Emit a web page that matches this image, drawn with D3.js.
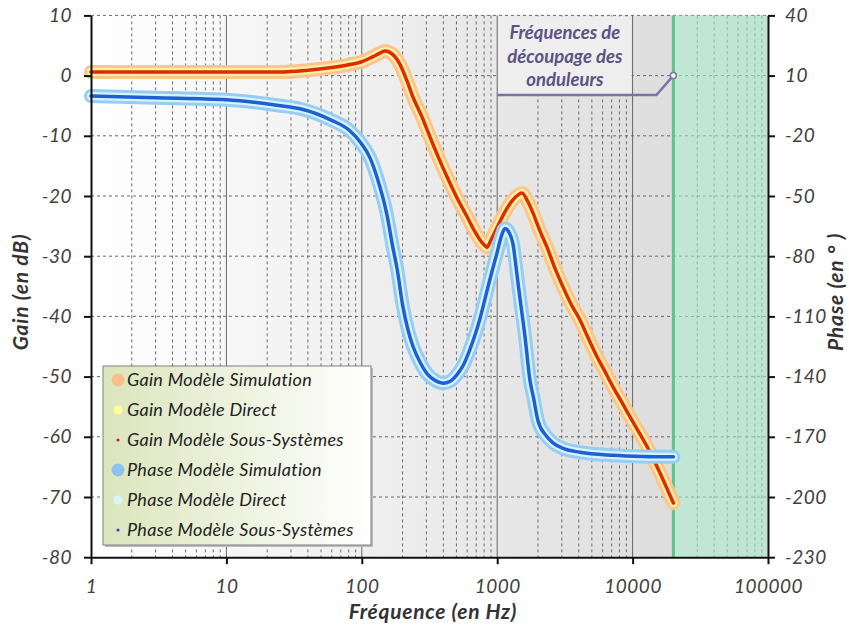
<!DOCTYPE html>
<html>
<head>
<meta charset="utf-8">
<script src="https://cdn.jsdelivr.net/npm/d3@7"></script>
<style>
body { margin: 0; background: #fff; }
text { font-family: Lato, "Open Sans", sans-serif; }
</style>
</head>
<body>
<div id="chart"></div>
<script>
// gain curve (Hz, dB)
var freqGain = [1, 3, 10, 25, 40, 58, 80, 100, 120, 135, 148, 160, 175, 191, 215, 239, 280, 319, 370, 426,
    510, 598, 680, 747, 800, 841, 900, 1000, 1100, 1200, 1350, 1525, 1680, 1838, 2050, 2332, 2650, 3062,
    3500, 4088, 4700, 5462, 6300, 7166, 8300, 9573, 12770, 15930, 20000];
var gainDb = [0.6, 0.6, 0.6, 0.6, 0.9, 1.3, 1.8, 2.3, 3.1, 3.7, 4.1, 3.9, 3.2, 1.9, -0.8, -3.6, -7.0, -10.2, -13.7, -16.8,
    -20.5, -23.4, -25.8, -27.3, -28.1, -28.5, -27.3, -25.2, -23.3, -21.8, -20.3, -19.5, -20.9, -22.8, -25.6, -28.5, -31.8, -35.1,
    -37.9, -40.6, -43.6, -46.7, -49.3, -51.7, -54.2, -56.7, -61.6, -66.0, -71.0];

// phase curve (Hz, degrees)
var freqPhase = [1, 3, 10, 25, 35, 60, 80, 97, 115, 130, 153, 170, 182, 201, 220, 239, 270, 303, 350, 398,
    450, 505, 560, 620, 680, 747, 850, 920, 991, 1080, 1142, 1220, 1309, 1393, 1473, 1604, 1747, 1848, 2001, 2300,
    2583, 3000, 4088, 7166, 12000, 20000];
var phaseDeg = [-0.2, -1, -2, -5, -6.5, -12.3, -17, -23, -31, -41, -59, -76, -86, -105, -117, -125, -133, -138.5, -142, -143.3,
    -142.3, -139, -134.5, -127.5, -120, -111, -96, -87, -79, -69.5, -66.2, -68, -74, -88, -101, -120, -142, -150, -162, -169.5,
    -173, -175.5, -177.7, -179.2, -179.8, -180];

var freqTicks = [1, 10, 100, 1000, 10000, 100000];
var gainTicks = [10, 0, -10, -20, -30, -40, -50, -60, -70, -80];
var phaseTicks = [40, 10, -20, -50, -80, -110, -140, -170, -200, -230];
var switchFreq = 20000;
var noteLines = ["Fréquences de", "découpage des", "onduleurs"];
var legendNames = ["Gain Modèle Simulation", "Gain Modèle Direct", "Gain Modèle Sous-Systèmes",
    "Phase Modèle Simulation", "Phase Modèle Direct", "Phase Modèle Sous-Systèmes"];

var W = 849, H = 627;
var L = 91, R = 768, T = 15.4, B = 557.2;

var svg = d3.select("#chart").append("svg").attr("width", W).attr("height", H);

var x = d3.scaleLog().domain([1, 100000]).range([L, R]);
var yG = d3.scaleLinear().domain([-80, 10]).range([B, T]);
var yP = d3.scaleLinear().domain([-230, 40]).range([B, T]);

var defs = svg.append("defs");
var bg = defs.append("linearGradient").attr("id", "bg");
bg.append("stop").attr("offset", "0%").attr("stop-color", "#ffffff");
bg.append("stop").attr("offset", "100%").attr("stop-color", "#d8d8d8");
var lg = defs.append("linearGradient").attr("id", "lg");
lg.append("stop").attr("offset", "0%").attr("stop-color", "#dbe5bc");
lg.append("stop").attr("offset", "100%").attr("stop-color", "#ffffff");

// plot background
svg.append("rect").attr("x", L).attr("y", T).attr("width", R - L).attr("height", B - T).attr("fill", "url(#bg)");

// grid
var minor = [];
for (var d = 1; d < 100000; d *= 10) {
    for (var k = 2; k <= 9; k++) minor.push(d * k);
}
svg.append("g").selectAll("line").data(minor).join("line")
    .attr("x1", d => x(d)).attr("x2", d => x(d)).attr("y1", T).attr("y2", B)
    .attr("stroke", "#6a6a6a").attr("stroke-width", 1).attr("stroke-dasharray", "3,3");
svg.append("g").selectAll("line").data(gainTicks.slice(0, -1)).join("line")
    .attr("x1", L).attr("x2", R).attr("y1", d => yG(d)).attr("y2", d => yG(d))
    .attr("stroke", "#6a6a6a").attr("stroke-width", 1).attr("stroke-dasharray", "3,3");
svg.append("g").selectAll("line").data(freqTicks.slice(1, -1)).join("line")
    .attr("x1", d => x(d)).attr("x2", d => x(d)).attr("y1", T).attr("y2", B)
    .attr("stroke", "#666").attr("stroke-width", 1);

// switching frequency zone
svg.append("rect").attr("x", x(switchFreq)).attr("y", T).attr("width", R - x(switchFreq)).attr("height", B - T)
    .attr("fill", "#a8f0cc").attr("opacity", 0.55);
svg.append("line").attr("x1", x(switchFreq)).attr("x2", x(switchFreq)).attr("y1", T).attr("y2", B)
    .attr("stroke", "#5cc48c").attr("stroke-width", 3);

// annotation
svg.append("rect").attr("x", x(1000) + 1).attr("y", T + 1).attr("width", x(10000) - x(1000) - 2).attr("height", 79)
    .attr("fill", "#eeeeee");
svg.append("g").selectAll("text").data(noteLines).join("text")
    .attr("x", (x(1000) + x(10000)) / 2).attr("y", (d, i) => 39 + i * 23.5)
    .attr("text-anchor", "middle").attr("font-size", 18.5).attr("font-weight", "bold").attr("font-style", "italic")
    .attr("fill", "#5c5283").text(d => d);
svg.append("path")
    .attr("d", "M" + x(1000) + "," + 95 + "H" + (x(switchFreq) - 17) + "L" + x(switchFreq) + "," + yP(10))
    .attr("fill", "none").attr("stroke", "#7b74a3").attr("stroke-width", 2.5);
svg.append("circle").attr("cx", x(switchFreq)).attr("cy", yP(10)).attr("r", 3)
    .attr("fill", "#fff").attr("stroke", "#7b74a3").attr("stroke-width", 1.5);

// curves
var gainData = freqGain.map((f, i) => ({ f: f, v: gainDb[i] }));
var phaseData = freqPhase.map((f, i) => ({ f: f, v: phaseDeg[i] }));
var lineG = d3.line().x(d => x(d.f)).y(d => yG(d.v)).curve(d3.curveMonotoneX);
var lineP = d3.line().x(d => x(d.f)).y(d => yP(d.v)).curve(d3.curveMonotoneX);

var gainStyles = [["#fbc58d", 14], ["#fff1a6", 8], ["#e02a00", 3.5]];
var phaseStyles = [["#97ccf4", 14], ["#d8f4fb", 8], ["#1f5fd6", 3.5]];
gainStyles.forEach(s => {
    svg.append("path").datum(gainData).attr("d", lineG).attr("fill", "none")
        .attr("stroke", s[0]).attr("stroke-width", s[1]).attr("stroke-linecap", "round").attr("stroke-linejoin", "round");
});
phaseStyles.forEach(s => {
    svg.append("path").datum(phaseData).attr("d", lineP).attr("fill", "none")
        .attr("stroke", s[0]).attr("stroke-width", s[1]).attr("stroke-linecap", "round").attr("stroke-linejoin", "round");
});

// axes
function styleAxis(g) {
    g.select(".domain").attr("stroke", "#111").attr("stroke-width", 2);
    g.selectAll(".tick line").attr("stroke", "#111").attr("stroke-width", 2);
    g.selectAll("text").attr("font-size", 19).attr("font-style", "italic").attr("fill", "#404040")
        .attr("letter-spacing", 0.5).attr("font-family", "Lato, 'Open Sans', sans-serif");
}
var fmt = d => String(d);
svg.append("g").attr("transform", "translate(" + L + ",0)")
    .call(d3.axisLeft(yG).tickValues(gainTicks).tickSize(7).tickSizeOuter(0).tickPadding(12).tickFormat(fmt))
    .call(styleAxis);
svg.append("g").attr("transform", "translate(" + R + ",0)")
    .call(d3.axisRight(yP).tickValues(phaseTicks).tickSize(7).tickSizeOuter(0).tickPadding(10).tickFormat(fmt))
    .call(styleAxis);
svg.append("g").attr("transform", "translate(0," + B + ")")
    .call(d3.axisBottom(x).tickValues(freqTicks).tickSize(7).tickSizeOuter(0).tickPadding(15).tickFormat(fmt))
    .call(styleAxis);

// axis titles
svg.append("text").attr("transform", "translate(28,292) rotate(-90)").attr("text-anchor", "middle")
    .attr("font-size", 21).attr("font-weight", "bold").attr("font-style", "italic").attr("fill", "#333")
    .attr("letter-spacing", 0.8).text("Gain (en dB)");
svg.append("text").attr("transform", "translate(843,292) rotate(-90)").attr("text-anchor", "middle")
    .attr("font-size", 21).attr("font-weight", "bold").attr("font-style", "italic").attr("fill", "#333")
    .attr("letter-spacing", 0.8).text("Phase (en ° )");
svg.append("text").attr("x", 433).attr("y", 619).attr("text-anchor", "middle")
    .attr("font-size", 21).attr("font-weight", "bold").attr("font-style", "italic").attr("fill", "#333")
    .attr("letter-spacing", 0.7).text("Fréquence (en Hz)");

// legend
var lx = 103, ly = 366, lw = 268, lh = 179;
svg.append("rect").attr("x", lx + 2).attr("y", ly + 2).attr("width", lw).attr("height", lh).attr("fill", "#bbb");
svg.append("rect").attr("x", lx).attr("y", ly).attr("width", lw).attr("height", lh)
    .attr("fill", "url(#lg)").attr("stroke", "#808080").attr("stroke-width", 1);
var markers = [["#fbbf8c", 6.5], ["#ffff9c", 4.5], ["#d62a10", 1.6], ["#8cc2f2", 6.5], ["#d6f6fa", 4.5], ["#3050c0", 1.6]];
var leg = svg.append("g").selectAll("g").data(legendNames).join("g")
    .attr("transform", (d, i) => "translate(" + (lx + 15) + "," + (ly + 14 + i * 30) + ")");
leg.append("circle").attr("r", (d, i) => markers[i][1]).attr("fill", (d, i) => markers[i][0]);
leg.append("text").attr("x", 9).attr("y", 6).attr("font-size", 18).attr("font-style", "italic")
    .attr("letter-spacing", 0.3).attr("fill", "#222").text(d => d);
</script>
</body>
</html>
